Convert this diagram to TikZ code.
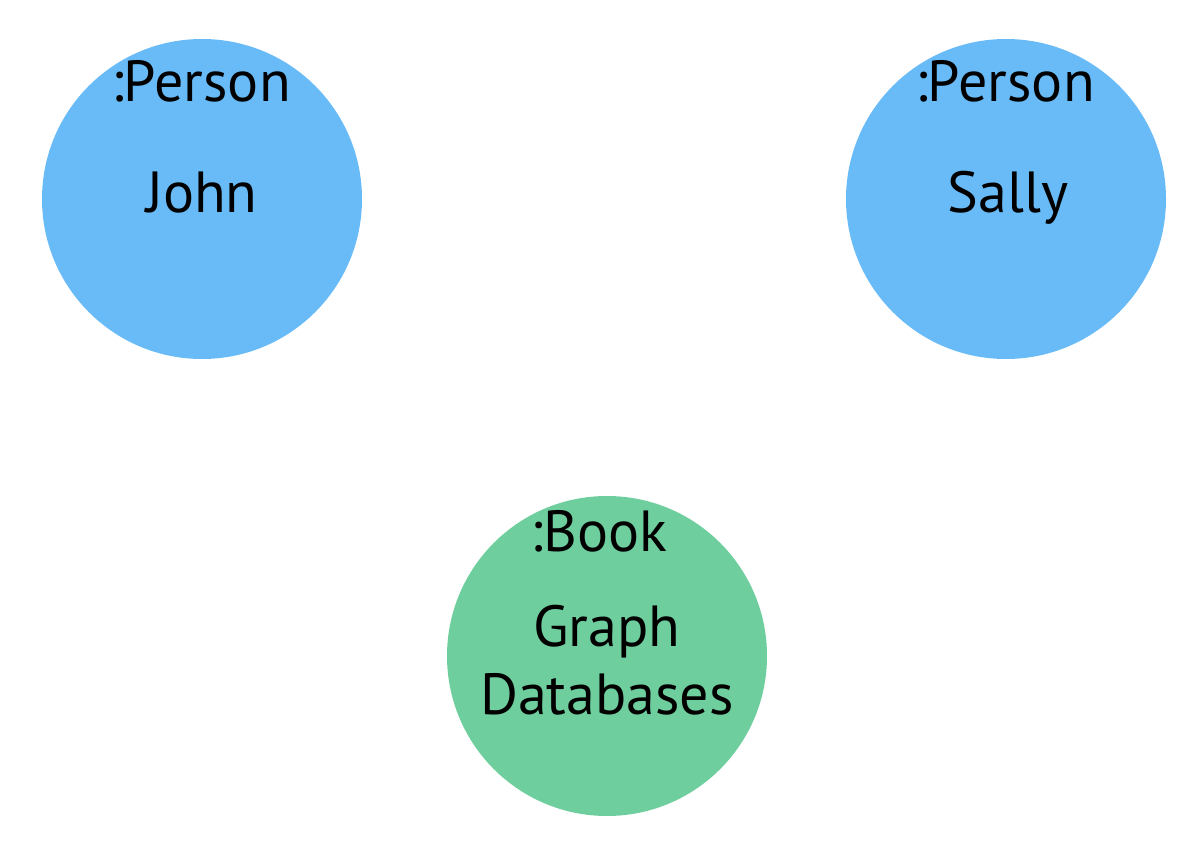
\documentclass[tikz,border=0pt]{standalone}
\usepackage{fontspec}
\setmainfont{PT Sans}
\definecolor{personblue}{RGB}{104,187,246}
\definecolor{bookgreen}{RGB}{111,206,158}
\begin{document}
\begin{tikzpicture}[x=1pt,y=-1pt,
  circ/.style={circle,minimum size=320pt,inner sep=0pt,draw=none},
  lbl/.style={font=\fontsize{58}{64}\selectfont,text=black,inner sep=0pt,anchor=base}]
\useasboundingbox (0,0) rectangle (1200,853);
\node[circ,fill=personblue] (john) at (202,199) {};
\node[circ,fill=personblue] (sally) at (1006,199) {};
\node[circ,fill=bookgreen] (book) at (607,656) {};
\node[lbl] (jl) at (201,102) {:Person};
\node[lbl] (sl) at (1005,102) {:Person};
\node[lbl] (bl) at (599,551) {:Book};
\node[lbl] (jn) at (202,213) {John};
\node[lbl] (sn) at (1008,213) {Sally};
\node[lbl] (bn1) at (607,646) {Graph};
\node[lbl] (bn2) at (607,714) {Databases};
\end{tikzpicture}
\end{document}
